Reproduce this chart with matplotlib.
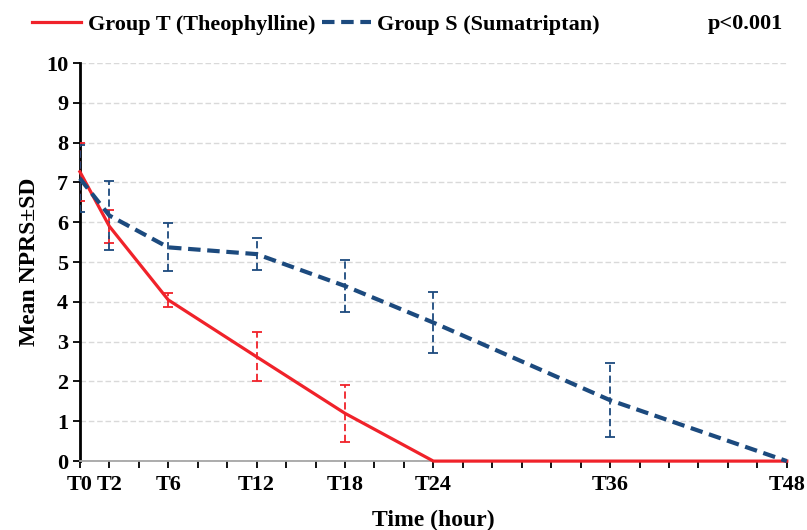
import matplotlib.pyplot as plt

plt.rcParams['font.family'] = ['Liberation Serif', 'DejaVu Serif']
plt.rcParams['font.weight'] = 'bold'

hours = [0, 2, 6, 12, 18, 24, 36, 48]
tick_labels = ['T0', 'T2', 'T6', 'T12', 'T18', 'T24', 'T36', 'T48']

group_t_mean = [7.27, 5.9, 4.05, 2.62, 1.2, 0, 0, 0]
group_t_sd = [0.73, 0.42, 0.17, 0.62, 0.71, 0, 0, 0]
group_s_mean = [7.1, 6.17, 5.37, 5.2, 4.4, 3.48, 1.53, 0]
group_s_sd = [0.85, 0.87, 0.6, 0.4, 0.65, 0.77, 0.93, 0]

red = '#f0222a'
blue = '#1c4a7e'

fig, ax = plt.subplots(figsize=(8.07, 5.3), dpi=100)
fig.subplots_adjust(left=0.099, right=0.975, bottom=0.13, top=0.881)

ax.yaxis.grid(True, color='#d9d9d9', linestyle=(0, (4, 2)), linewidth=1)
ax.set_axisbelow(True)

# error bars only where there is spread
t_idx = [i for i, s in enumerate(group_t_sd) if s > 0]
s_idx = [i for i, s in enumerate(group_s_sd) if s > 0]

eb1 = ax.errorbar([hours[i] for i in t_idx], [group_t_mean[i] for i in t_idx],
                  yerr=[group_t_sd[i] for i in t_idx], fmt='none', ecolor=red,
                  elinewidth=1.3, capsize=3.5, capthick=1.3, zorder=3)
eb1[2][0].set_linestyle((0, (4, 2)))
eb2 = ax.errorbar([hours[i] for i in s_idx], [group_s_mean[i] for i in s_idx],
                  yerr=[group_s_sd[i] for i in s_idx], fmt='none', ecolor=blue,
                  elinewidth=1.3, capsize=3.5, capthick=1.3, zorder=3)
eb2[2][0].set_linestyle((0, (4, 2)))

l1, = ax.plot(hours, group_t_mean, color=red, linewidth=2.3, zorder=4,
              clip_on=False, label='Group T (Theophylline)')
l2, = ax.plot(hours, group_s_mean, color=blue, linewidth=3, linestyle=(0, (3, 1.6)),
              zorder=4, clip_on=False, label='Group S (Sumatriptan)')

ax.set_xlim(0, 48)
ax.set_ylim(0, 10)
ax.set_yticks(range(0, 11))
ax.set_xticks(hours)
ax.set_xticklabels(tick_labels)
ax.set_xticks(range(0, 49, 2), minor=True)
ax.tick_params(axis='both', which='major', labelsize=16, length=5, width=1.3, direction='out')
ax.tick_params(axis='x', which='minor', length=5, width=1.3)
ax.tick_params(axis='x', pad=5)

for side in ['top', 'right']:
    ax.spines[side].set_visible(False)
ax.spines['left'].set_linewidth(2)
ax.spines['bottom'].set_color('#a6a6a6')
ax.spines['bottom'].set_linewidth(1.3)

ax.set_xlabel('Time (hour)', fontsize=17, fontweight='bold', labelpad=11)
ax.set_ylabel('Mean NPRS±SD', fontsize=17, fontweight='bold', labelpad=4)

fig.legend(handles=[l1, l2], loc='upper left', bbox_to_anchor=(0.015, 1.01), ncol=2,
           frameon=False, fontsize=16, handlelength=2.2, columnspacing=0.3,
           handletextpad=0.3)
fig.text(0.97, 0.955, 'p<0.001', ha='right', va='center', fontsize=16, fontweight='bold')

fig.savefig('out.png')
